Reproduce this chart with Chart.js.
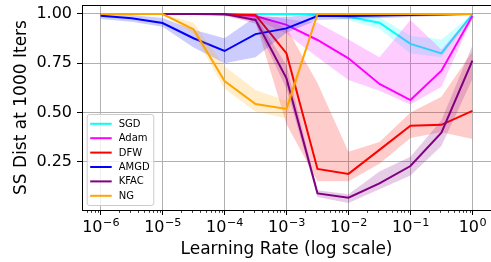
<!DOCTYPE html>
<html><head><meta charset="utf-8">
<script src="https://cdn.jsdelivr.net/npm/chart.js@4.4.1/dist/chart.umd.min.js"></script>
<style>html,body{margin:0;padding:0;background:#fff;overflow:hidden}</style>
</head><body>
<canvas id="c" width="491" height="262"></canvas>
<script>
// ---------- data ----------
const learningRates = [1e-6, 3.162e-6, 1e-5, 3.162e-5, 1e-4, 3.162e-4, 1e-3, 3.162e-3, 1e-2, 3.162e-2, 1e-1, 3.162e-1, 1];
const seriesNames = ['SGD', 'Adam', 'DFW', 'AMGD', 'KFAC', 'NG'];

const sgdMean  = [1, 1, 1, 1, 1, 1, 1, 0.998, 0.986, 0.956, 0.848, 0.800, 1.0];
const sgdLow   = [1, 1, 1, 1, 1, 1, 1, 0.990, 0.970, 0.925, 0.800, 0.780, 0.99];
const sgdHigh  = [1, 1, 1, 1, 1, 1, 1, 1.0, 1.0, 0.985, 0.890, 0.870, 1.0];

const adamMean = [1, 1, 1, 1, 1, 0.990, 0.945, 0.868, 0.775, 0.645, 0.563, 0.712, 0.99];
const adamLow  = [1, 1, 1, 1, 1, 0.975, 0.900, 0.780, 0.665, 0.610, 0.540, 0.630, 0.98];
const adamHigh = [1, 1, 1, 1, 1, 1.0, 0.975, 0.955, 0.870, 0.780, 0.970, 0.820, 1.0];

const dfwMean  = [1, 1, 1, 1, 0.998, 0.995, 0.800, 0.213, 0.188, 0.310, 0.433, 0.437, 0.508];
const dfwLow   = [1, 1, 1, 1, 0.990, 0.960, 0.440, 0.150, 0.150, 0.240, 0.370, 0.400, 0.365];
const dfwHigh  = [1, 1, 1, 1, 1.0, 1.0, 0.930, 0.650, 0.300, 0.350, 0.500, 0.580, 0.810];

const amgdMean = [0.991, 0.978, 0.954, 0.877, 0.812, 0.898, 0.927, 0.990, 0.990, 0.993, 0.995, 0.997, 1.0];
const amgdLow  = [0.975, 0.960, 0.935, 0.830, 0.750, 0.780, 0.905, 0.970, 0.975, 0.980, 0.985, 0.990, 1.0];
const amgdHigh = [1.0, 0.995, 0.980, 0.920, 0.877, 0.986, 0.985, 1.0, 1.0, 1.0, 1.0, 1.0, 1.0];

const kfacMean = [1, 1, 1, 1, 1, 0.970, 0.673, 0.089, 0.067, 0.140, 0.228, 0.397, 0.763];
const kfacLow  = [1, 1, 1, 1, 0.995, 0.950, 0.620, 0.070, 0.040, 0.110, 0.180, 0.330, 0.670];
const kfacHigh = [1, 1, 1, 1, 1.0, 0.990, 0.740, 0.105, 0.085, 0.200, 0.275, 0.460, 0.840];

const ngMean   = [1, 1, 1, 0.922, 0.660, 0.543, 0.518, 1, 1, 1, 1, 1, 1];
const ngLow    = [1, 1, 1, 0.900, 0.620, 0.505, 0.470, 1, 1, 1, 1, 1, 1];
const ngHigh   = [1, 1, 1, 0.955, 0.735, 0.614, 0.560, 1, 1, 1, 1, 1, 1];

const xTickExponents = [-6, -5, -4, -3, -2, -1, 0];
const xTickBase = '10';
const xTickExpLabels = ['\u22126', '\u22125', '\u22124', '\u22123', '\u22122', '\u22121', '0'];
const yTickValues = [0.25, 0.5, 0.75, 1.0];
const yTickLabels = ['0.25', '0.50', '0.75', '1.00'];

// ---------- styles ----------
const seriesColors = ['#00ffff', '#ff00ff', '#ff0000', '#0000ff', '#800080', '#ffa500'];
const bandColors = ['rgba(0,255,255,0.2)', 'rgba(255,0,255,0.2)', 'rgba(255,0,0,0.2)', 'rgba(0,0,255,0.2)', 'rgba(128,0,128,0.2)', 'rgba(255,165,0,0.2)'];

const seriesData = [
  [sgdMean, sgdLow, sgdHigh],
  [adamMean, adamLow, adamHigh],
  [dfwMean, dfwLow, dfwHigh],
  [amgdMean, amgdLow, amgdHigh],
  [kfacMean, kfacLow, kfacHigh],
  [ngMean, ngLow, ngHigh]
];

const toPoints = arr => learningRates.map((x, i) => ({x: x, y: arr[i]}));

const datasets = [];
seriesData.forEach((s, k) => {
  const [mean, low, high] = s;
  datasets.push({label: '', data: toPoints(high), fill: '+1', backgroundColor: bandColors[k],
    borderWidth: 0, pointRadius: 0, order: 1000 - 3 * k, isBand: true});
  datasets.push({label: '', data: toPoints(low), fill: false, borderWidth: 0, pointRadius: 0,
    order: 1000 - 3 * k - 1, isBand: true});
  datasets.push({label: seriesNames[k], data: toPoints(mean), fill: false, borderColor: seriesColors[k],
    borderWidth: 2, pointRadius: 0, tension: 0, order: 1000 - 3 * k - 2});
});

Chart.defaults.font.family = "'DejaVu Sans', sans-serif";
Chart.defaults.color = '#000';

const extrasPlugin = {
  id: 'extras',
  afterDraw(chart) {
    const ctx = chart.ctx;
    const ca = chart.chartArea;
    const xs = chart.scales.x;
    ctx.save();
    // top spine
    ctx.strokeStyle = '#000';
    ctx.lineWidth = 1;
    ctx.beginPath();
    ctx.moveTo(ca.left, ca.top + 0.5);
    ctx.lineTo(ca.right, ca.top + 0.5);
    ctx.stroke();
    // minor ticks on log axis
    ctx.lineWidth = 0.8;
    ctx.beginPath();
    for (let e = -7; e <= 0; e++) {
      for (let m = 2; m <= 9; m++) {
        const v = m * Math.pow(10, e);
        if (v < xs.min || v > xs.max) continue;
        const px = Math.round(xs.getPixelForValue(v)) + 0.5;
        ctx.moveTo(px, ca.bottom);
        ctx.lineTo(px, ca.bottom + 2.8);
      }
    }
    ctx.stroke();
    // x tick labels with mathtext-like superscripts
    ctx.fillStyle = '#000';
    ctx.textBaseline = 'alphabetic';
    ctx.textAlign = 'left';
    const baseFont = "16px 'DejaVu Sans'";
    const supFont = "11.2px 'DejaVu Sans'";
    xTickExponents.forEach((e, i) => {
      const px = xs.getPixelForValue(Math.pow(10, e));
      ctx.font = baseFont;
      const wb = ctx.measureText(xTickBase).width;
      ctx.font = supFont;
      const ws = ctx.measureText(xTickExpLabels[i]).width;
      const x0 = px - (wb + ws) / 2;
      const baseY = ca.bottom + 21.6;
      ctx.font = baseFont;
      ctx.fillText(xTickBase, x0, baseY);
      ctx.font = supFont;
      ctx.fillText(xTickExpLabels[i], x0 + wb + 0.5, baseY - 5.2);
    });
    // legend
    const lines = chart.data.datasets.filter(d => !d.isBand);
    const bw = 66.6, bh = 91;
    const bx = ca.left + 4.7, by = ca.bottom - 5 - bh;
    ctx.fillStyle = 'rgba(255,255,255,0.8)';
    ctx.strokeStyle = '#cccccc';
    ctx.lineWidth = 1;
    ctx.beginPath();
    if (ctx.roundRect) ctx.roundRect(bx + 0.5, by + 0.5, bw, bh, 2.5); else ctx.rect(bx + 0.5, by + 0.5, bw, bh);
    ctx.fill();
    ctx.stroke();
    ctx.font = "10px 'DejaVu Sans'";
    ctx.textBaseline = 'middle';
    ctx.textAlign = 'left';
    lines.forEach((d, i) => {
      const y = by + 9.8 + i * 14.4;
      ctx.strokeStyle = d.borderColor;
      ctx.lineWidth = 2;
      ctx.beginPath();
      ctx.moveTo(bx + 3.5, y);
      ctx.lineTo(bx + 25, y);
      ctx.stroke();
      ctx.fillStyle = '#000';
      ctx.fillText(d.label, bx + 32, y + 0.5);
    });
    ctx.restore();
  }
};

new Chart(document.getElementById('c'), {
  type: 'line',
  data: {datasets: datasets},
  options: {
    responsive: false,
    animation: false,
    devicePixelRatio: 1,
    layout: {padding: {top: 5, right: -3.75, left: 0, bottom: 0}},
    plugins: {legend: {display: false}, tooltip: {enabled: false}},
    scales: {
      x: {
        type: 'logarithmic',
        min: Math.pow(10, -6.3),
        max: Math.pow(10, 0.3),
        afterBuildTicks: s => { s.ticks = xTickExponents.map(e => ({value: Math.pow(10, e)})); },
        afterFit: s => { s.height = 52; s.paddingLeft = 0; s.paddingRight = 0; },
        ticks: {display: false},
        grid: {color: '#b0b0b0', lineWidth: 1, tickColor: '#000', tickLength: 5, tickWidth: 1},
        border: {color: '#000', width: 1},
        title: {display: true, text: 'Learning Rate (log scale)', font: {size: 17}, padding: {top: 0, bottom: 2}}
      },
      y: {
        type: 'linear',
        min: 0.0046,
        max: 1.0457,
        afterBuildTicks: s => { s.ticks = yTickValues.map(v => ({value: v})); },
        afterFit: s => { s.width = 82; s.paddingTop = 0; s.paddingBottom = 0; },
        ticks: {
          padding: 5, font: {size: 16},
          callback: (v, i) => yTickLabels[i]
        },
        grid: {color: '#b0b0b0', lineWidth: 1, tickColor: '#000', tickLength: 5, tickWidth: 1},
        border: {color: '#000', width: 1},
        title: {display: true, text: 'SS Dist at 1000 Iters', font: {size: 17}, padding: {top: 11, bottom: 0}}
      }
    }
  },
  plugins: [extrasPlugin]
});
</script>
</body></html>
